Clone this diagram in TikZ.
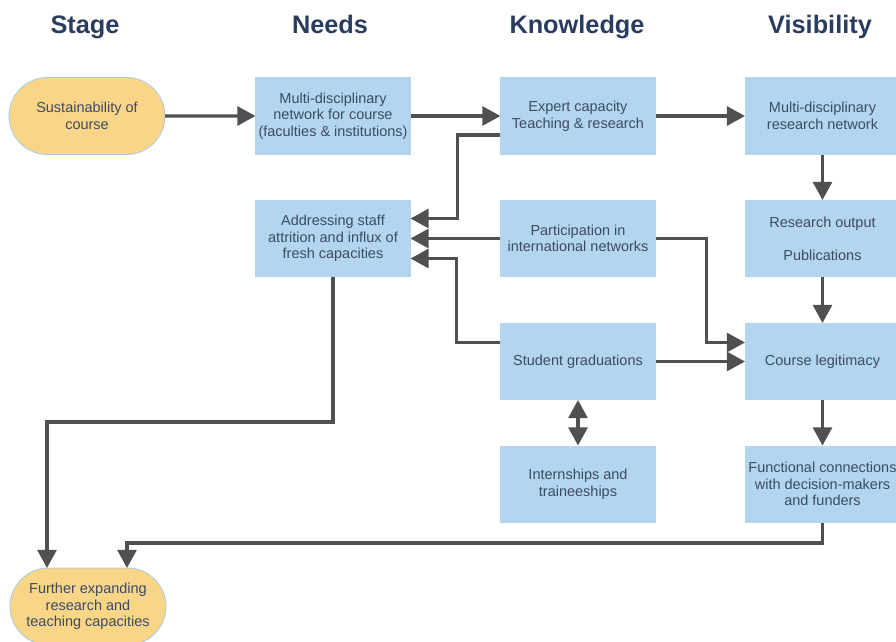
\documentclass[tikz,border=0pt]{standalone}
\usepackage{fontspec}
\setmainfont{Liberation Sans}
\usetikzlibrary{arrows.meta}
\usetikzlibrary{positioning}
\usetikzlibrary{shapes.misc}
\definecolor{boxblue}{HTML}{B3D6EE}
\definecolor{stageyellow}{HTML}{F9D587}
\definecolor{stageedge}{HTML}{A9CDE8}
\definecolor{linegray}{HTML}{505050}
\definecolor{headnavy}{HTML}{2B3D5E}
\colorlet{textgray}{headnavy!80!gray}

\begin{document}
\begin{tikzpicture}[
		x=0.025cm, y=-0.025cm,
		every node/.style={
			font=\fontsize{10.3}{11.8}\selectfont,
			textgray,
			align=center
		},
		head/.style={font=\fontsize{18}{21}\selectfont\bfseries, headnavy, anchor=base},
		box/.style={rectangle, fill=boxblue, minimum width=3.875cm, minimum height=1.925cm, inner sep=0pt, outer sep=0pt},
		stage/.style={rounded rectangle, fill=stageyellow, draw=stageedge, line width=0.6pt, minimum width=3.9cm, minimum height=1.925cm, inner sep=0pt, outer sep=0pt},
		>={Triangle[length=0.45cm,width=0.47cm]},
		link/.style={->, draw=linegray, line width=2.3pt}
	]

	\useasboundingbox (0,0) rectangle (896,641);

	\foreach \x/\t in {85/Stage,330/Needs,577/Knowledge,820/Visibility}{
		\node[head] (head\t) at (\x,33) {\t};
	}

	\node[stage] (sust) at (87,116) {Sustainability of\\course};
	\node[box] (mdnet) at (333,116) {Multi-disciplinary\\network for course\\(faculties \& institutions)};
	\node[box] (expert) at (578,116) {Expert capacity\\Teaching \& research};
	\node[box] (resnet) at (822.5,116) {Multi-disciplinary\\research network};

	\node[box] (staff) at (333,238.5) {Addressing staff\\attrition and influx of\\fresh capacities};
	\node[box] (intnet) at (578,238.5) {Participation in\\international networks};
	\node[box] (output) at (822.5,238.5) {Research output\\[11.8pt]Publications};

	\node[box] (grads) at (578,361.5) {Student graduations};
	\node[box] (legit) at (822.5,361.5) {Course legitimacy};

	\node[box] (intern) at (578,484) {Internships and\\traineeships};
	\node[box] (funct) at (822.5,484) {Functional connections\\with decision-makers\\and funders};

	\node[stage] (expand) at (88,606.5) {Further expanding\\research and\\teaching capacities};

	\draw[link] (sust) -- (mdnet);
	\draw[link] (mdnet) -- (expert);
	\draw[link] (expert) -- (resnet);
	\draw[link] (resnet) -- (output);
	\draw[link] (output) -- (legit);
	\draw[link] (legit) -- (funct);
	\draw[link] (intnet) -- (staff);
	\draw[link] (grads) -- (legit);
	\draw[link,<->] (grads) -- (intern);

	% back into the needs column
	\draw[link] ([yshift=-0.475cm]expert.west) -- ++(-43,0) |- ([yshift=0.5cm]staff.east);
	\draw[link] ([yshift=0.475cm]grads.west) -- ++(-44,0) |- ([yshift=-0.5cm]staff.east);
	\draw[link] (intnet.east) -- ++(51,0) |- ([yshift=0.475cm]legit.west);

	\draw[link] (staff.south) -- ++(0,145) -| ([xshift=-1.025cm]expand.north);
	\draw[link] (funct.south) -- ++(0,20.5) -| ([xshift=0.975cm]expand.north);

\end{tikzpicture}
\end{document}
